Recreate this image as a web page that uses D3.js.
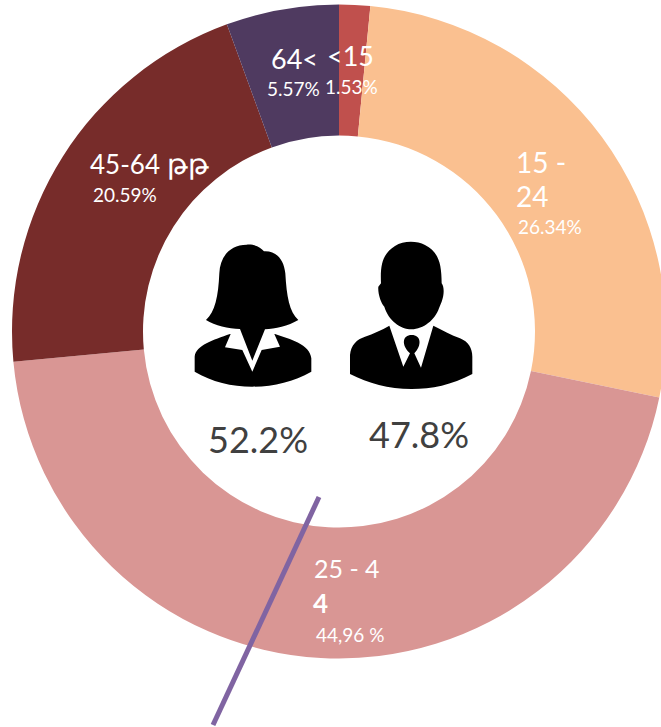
<!DOCTYPE html>
<html><head><meta charset="utf-8">
<script src="https://cdn.jsdelivr.net/npm/d3@7"></script>
<style>html,body{margin:0;padding:0;background:#fff;overflow:hidden}svg{display:block}text{font-family:Lato,"Open Sans",sans-serif}</style>
</head><body><svg id="c" width="661" height="727"></svg>
<script>
const categories=["<15","15 - 24","25 - 44","45-64","64<"];
const sliceValues=[1.53,26.7,45.3,20.9,5.57];
const sliceColors=["#c0504d","#fac090","#d99694","#772c2a","#4f3a60"];
const svg=d3.select("#c");
const cx=339,cy=331.5,R0=196,R1=327;
const g=svg.append("g").attr("transform",`translate(${cx},${cy})`);
const pie=d3.pie().sort(null).value(d=>d)(sliceValues);
const arc=d3.arc().innerRadius(R0).outerRadius(R1);
g.selectAll("path").data(pie).join("path").attr("d",arc).attr("fill",(d,i)=>sliceColors[i]);
svg.append("line").attr("x1",319).attr("y1",497).attr("x2",213).attr("y2",725).attr("stroke","#8064a2").attr("stroke-width",5);
const labels=[["64<",271,69,27],["<15",327,66,27],["45-64",90,174,26],["15 -",516,173,28],["24",516,207,28],["25 - 4",314,578,25]];
const small=[["5.57%",267,96,19],["1.53%",325,94,19],["20.59%",93,202,19],["26.34%",518,234,19],["44,96 %",316,642,19]];
labels.forEach(l=>svg.append("text").attr("x",l[1]).attr("y",l[2]).attr("font-size",l[3]).attr("fill","#fff").text(l[0]));
svg.append("text").attr("x",167).attr("y",174).attr("font-size",28).attr("fill","#fff").text("թթ");
svg.append("text").attr("x",313).attr("y",613).attr("font-size",26).attr("font-weight",700).attr("fill","#fff").text("4");
small.forEach(l=>svg.append("text").attr("x",l[1]).attr("y",l[2]).attr("font-size",l[3]).attr("fill","#fff").text(l[0]));
svg.append("text").attr("x",208).attr("y",453).attr("font-size",36).attr("fill","#404040").text("52.2%");
svg.append("text").attr("x",369).attr("y",448).attr("font-size",36).attr("fill","#404040").text("47.8%");
const woman=svg.append("g").attr("transform","translate(190,240) scale(0.3333)");
woman.append("path").attr("d","M14,395 L14,350 C18,315 70,300 120,282 L255,282 C300,298 360,312 364,355 L364,395 C310,425 250,440 187,440 C125,440 65,425 14,395Z");
woman.append("path").attr("fill","#fff").attr("d","M122,282 L105,322 L157,330 L187,395 L215,330 L270,320 L253,282 L225,262 L150,262Z");
woman.append("path").attr("d","M48,240 C75,215 85,170 88,100 C90,50 120,14 170,14 C195,12 212,22 222,34 C260,32 282,60 286,100 C290,170 298,215 325,240 C295,258 255,267 225,268 L187,362 L150,267 C115,265 75,258 48,240Z");
const man=svg.append("g").attr("transform","translate(345,240) scale(0.3333)");
man.append("path").attr("d","M108,130 C105,70 115,40 150,18 C175,2 215,2 240,15 C280,35 290,70 290,130 C298,140 298,165 290,185 L282,205 C270,240 235,268 200,268 C165,268 130,240 118,200 C108,190 98,160 100,140Z");
man.append("path").attr("d","M15,402 L15,345 C18,315 35,298 60,290 C85,282 110,270 133,257 L175,380 L195,340 C168,315 172,285 200,285 C228,285 232,315 208,340 L228,383 L265,257 C290,270 320,285 345,295 C370,305 382,325 382,350 L382,402 C320,435 260,447 200,447 C130,447 70,430 15,402Z");
</script></body></html>
